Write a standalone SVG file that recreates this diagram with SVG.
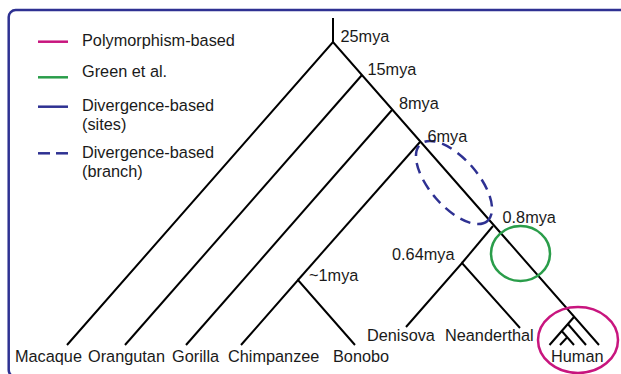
<svg xmlns="http://www.w3.org/2000/svg" width="621" height="374" viewBox="0 0 621 374">
  <style>
    text { font-family: "Liberation Sans", Arial, sans-serif; font-size: 16.3px; fill: #1a1a1a; }
    .br { stroke: #000; stroke-width: 2; fill: none; stroke-linecap: butt; }
    .frame { fill: none; stroke: #2e3192; stroke-width: 2.5; }
    .mag { stroke: #c8157e; stroke-width: 2.5; fill: none; }
    .grn { stroke: #2a9d4a; stroke-width: 2.5; fill: none; }
    .blu { stroke: #2e3192; stroke-width: 2.5; fill: none; }
    .dsh { stroke: #2e3192; stroke-width: 2.5; fill: none; stroke-dasharray: 11 7; }
  </style>
  <rect id="frame" class="frame" x="8.7" y="10" width="700" height="367" rx="7"/>

  <g id="legend">
    <line class="mag" x1="38" y1="41.7" x2="68" y2="41.7"/>
    <text x="82" y="46">Polymorphism-based</text>
    <line class="grn" x1="38" y1="77.3" x2="68" y2="77.3"/>
    <text x="82" y="77">Green et al.</text>
    <line class="blu" x1="38" y1="106.7" x2="68" y2="106.7"/>
    <text x="82" y="111">Divergence-based</text>
    <text x="82" y="130">(sites)</text>
    <line class="blu" x1="38" y1="153.3" x2="50" y2="153.3"/>
    <line class="blu" x1="56" y1="153.3" x2="68" y2="153.3"/>
    <text x="82" y="158">Divergence-based</text>
    <text x="82" y="176.5">(branch)</text>
  </g>

  <g id="connectors">
    <line class="br" x1="333" y1="18" x2="333" y2="42"/>
    <polyline class="br" points="67,345 333,42 599,345"/>
    <line class="br" x1="362" y1="75" x2="125" y2="345"/>
    <line class="br" x1="392" y1="110" x2="186" y2="345"/>
    <line class="br" x1="420" y1="142" x2="298" y2="280"/>
    <polyline class="br" points="241,345 298,280 355,345"/>
    <line class="br" x1="493" y1="226" x2="462" y2="263"/>
    <polyline class="br" points="406,327 462,263 520,328"/>
    <line class="br" x1="574" y1="317" x2="549.5" y2="345"/>
    <line class="br" x1="567.9" y1="324" x2="586" y2="345"/>
    <line class="br" x1="561.7" y1="331" x2="574" y2="345"/>
    <line class="br" x1="567" y1="337.5" x2="560" y2="345"/>
  </g>

  <g id="highlights">
    <ellipse class="dsh" cx="454" cy="182.5" rx="51" ry="24" transform="rotate(49 454 182.5)"/>
    <ellipse class="grn" cx="520.5" cy="253.5" rx="29.5" ry="27.5"/>
    <ellipse class="mag" cx="578" cy="340" rx="40" ry="33"/>
  </g>

  <g id="node-labels">
    <text x="340.5" y="42">25mya</text>
    <text x="367.5" y="75">15mya</text>
    <text x="399" y="109">8mya</text>
    <text x="427.5" y="141.5">6mya</text>
    <text x="502.5" y="222.5">0.8mya</text>
    <text x="392" y="260">0.64mya</text>
    <text x="309" y="281">~1mya</text>
  </g>

  <g id="Macaque"><text x="15" y="362">Macaque</text></g>
  <g id="Orangutan"><text x="88" y="362">Orangutan</text></g>
  <g id="Gorilla"><text x="172" y="362">Gorilla</text></g>
  <g id="Chimpanzee"><text x="228" y="362">Chimpanzee</text></g>
  <g id="Bonobo"><text x="333" y="362">Bonobo</text></g>
  <g id="Denisova"><text x="367" y="340.5">Denisova</text></g>
  <g id="Neanderthal"><text x="445" y="340.5">Neanderthal</text></g>
  <g id="Human"><text x="551" y="362">Human</text></g>
</svg>
